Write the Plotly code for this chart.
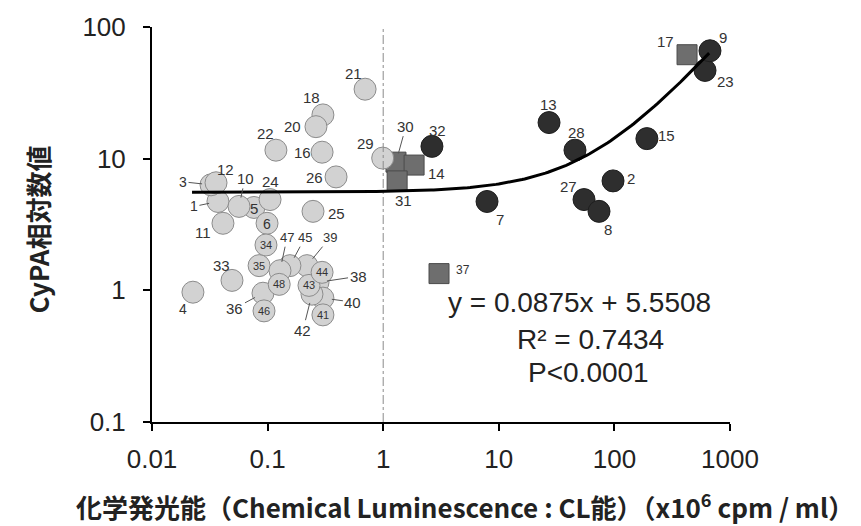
import numpy as np
import plotly.graph_objects as go

# ---------------- data ----------------
# light-gray circles
a_ids = [1, 3, 4, 5, 6, 10, 11, 12, 16, 18, 20, 21, 22, 24, 25, 26, 29, 33, 34, 35,
         36, 38, 39, 40, 41, 42, 43, 44, 45, 46, 47, 48]
a_x = [0.0372, 0.0324, 0.0226, 0.0762, 0.0989, 0.0566, 0.0411, 0.0358, 0.296, 0.301, 0.262,
       0.697, 0.118, 0.105, 0.247, 0.391, 0.99, 0.0492, 0.0968, 0.0844,
       0.0912, 0.273, 0.219, 0.301, 0.301, 0.242, 0.228, 0.296, 0.156, 0.0931, 0.128, 0.126]
a_y = [4.73, 6.33, 0.968, 4.26, 3.23, 4.34, 3.23, 6.56, 11.2, 21.5, 17.5,
       33.7, 11.6, 4.89, 3.98, 7.27, 10.1, 1.19, 2.21, 1.54,
       0.951, 1.15, 1.54, 0.873, 0.651, 0.935, 1.09, 1.37, 1.54, 0.698, 1.41, 1.11]

# dark-gray squares
b_ids = [30, 14, 31, 17, 37]
b_x = [1.29, 1.85, 1.32, 425, 3.04]
b_y = [9.41, 8.94, 6.78, 61.6, 1.34]

# dark circles
c_ids = [2, 7, 27, 8, 13, 15, 23, 9, 28, 32]
c_x = [97.3, 7.91, 54.6, 73.6, 27.2, 191, 608, 671, 45.6, 2.64]
c_y = [6.78, 4.73, 4.89, 3.98, 18.8, 14.2, 46.8, 66.0, 11.6, 12.4]

# regression shown on chart
fit_slope = 0.0875
fit_intercept = 5.5508
fit_range = [0.0222, 660]

x_ticks = [0.01, 0.1, 1, 10, 100, 1000]
x_tick_text = ["0.01", "0.1", "1", "10", "100", "1000"]
y_ticks = [0.1, 1, 10, 100]
y_tick_text = ["0.1", "1", "10", "100"]

# ---------------- label styling (pixel offsets) ----------------
# plain labels: (xshift, yshift, size)
plain = {
    2: (18, 2, 15), 4: (-10, -17, 14), 5: (0, -1, 15), 6: (0, -1, 14), 7: (13, -18, 15),
    8: (9, -18, 15), 9: (13, 13, 15), 11: (-20, -9, 15), 12: (9, 13, 15), 13: (-1, 18, 15),
    14: (22, -8, 15), 15: (20, 3, 15), 16: (-20, 0, 15), 17: (-22, 13, 15), 18: (-11, 17, 15),
    20: (-23, 0, 15), 21: (-12, 16, 15), 22: (-10, 17, 15), 23: (20, -11, 15), 24: (0, 18, 15),
    25: (23, -2, 15), 26: (-22, -1, 15), 27: (-16, 13, 15), 28: (2, 18, 15), 29: (-17, 15, 15),
    31: (6, -20, 15), 32: (6, 16, 15), 33: (-10, 15, 15), 37: (24, 4, 12),
    34: (0, 0, 11), 35: (0, 0, 11), 41: (0, 0, 11), 43: (0, 0, 11), 44: (0, 0, 11),
    46: (0, 0, 11), 48: (0, 0, 11),
}
# leader-line labels: (ax, ay, size)
leader = {
    1: (-24, 5, 14), 3: (-28, -3, 14), 10: (6, -28, 15), 30: (10, -36, 15),
    47: (7, -33, 13), 45: (15, -28, 13), 39: (23, -28, 13), 38: (40, -6, 15),
    40: (30, 4, 15), 42: (-9, 36, 15), 36: (-28, 15, 15),
}

NUMFONT = "Liberation Sans, Arial, sans-serif"
CJKFONT = "Noto Sans CJK JP, sans-serif"

fig = go.Figure()

fig.add_trace(go.Scatter(
    x=b_x, y=b_y, mode="markers",
    marker=dict(symbol="square", size=20, color="#6e6e6e",
                line=dict(color="#4a4a4a", width=1)),
    showlegend=False, hoverinfo="skip"))

fig.add_trace(go.Scatter(
    x=a_x, y=a_y, mode="markers",
    marker=dict(symbol="circle", size=22, color="#d2d2d2",
                line=dict(color="#8c8c8c", width=1)),
    showlegend=False, hoverinfo="skip"))

fig.add_trace(go.Scatter(
    x=c_x, y=c_y, mode="markers",
    marker=dict(symbol="circle", size=22, color="#2e2e2e",
                line=dict(color="#1e1e1e", width=1)),
    showlegend=False, hoverinfo="skip"))

# vertical dashed reference at x = 1
fig.add_trace(go.Scatter(
    x=[1, 1], y=[0.1, 100], mode="lines",
    line=dict(color="#8a8a8a", width=1, dash="dashdot"),
    showlegend=False, hoverinfo="skip"))

fx = np.logspace(np.log10(fit_range[0]), np.log10(fit_range[1]), 200)
fy = fit_slope * fx + fit_intercept
fig.add_trace(go.Scatter(
    x=fx, y=fy, mode="lines", line=dict(color="black", width=3),
    showlegend=False, hoverinfo="skip"))

all_pts = {}
for ids, xs, ys in ((a_ids, a_x, a_y), (b_ids, b_x, b_y), (c_ids, c_x, c_y)):
    for i, xv, yv in zip(ids, xs, ys):
        all_pts[i] = (xv, yv)

ann = []
for i, (xv, yv) in all_pts.items():
    if i in plain:
        xs_, ys_, sz = plain[i]
        ann.append(dict(x=np.log10(xv), y=np.log10(yv), text=str(i), showarrow=False,
                        xanchor="center", yanchor="middle",
                        xshift=xs_, yshift=ys_, font=dict(family=NUMFONT, size=sz, color="#333")))
    elif i in leader:
        ax, ay, sz = leader[i]
        ann.append(dict(x=np.log10(xv), y=np.log10(yv), text=str(i), showarrow=True,
                        arrowhead=0, arrowwidth=1, arrowcolor="#555", ax=ax, ay=ay,
                        standoff=9, font=dict(family=NUMFONT, size=sz, color="#333")))

EQFONT = dict(family=NUMFONT, size=28, color="#222")
ann += [
    dict(xref="paper", yref="paper", x=0.740, y=0.302, text="y = 0.0875x + 5.5508",
         xanchor="center", yanchor="middle", showarrow=False, font=EQFONT),
    dict(xref="paper", yref="paper", x=0.7595, y=0.2095, text="R² = 0.7434",
         xanchor="center", yanchor="middle", showarrow=False, font=EQFONT),
    dict(xref="paper", yref="paper", x=0.756, y=0.125, text="P<0.0001",
         xanchor="center", yanchor="middle", showarrow=False, font=EQFONT),
    dict(xref="paper", yref="paper", x=0, y=0.5, xshift=-115, yshift=-5,
         xanchor="center", yanchor="middle", text="<b>CyPA相対数値</b>",
         textangle=-90, showarrow=False,
         font=dict(family=CJKFONT, size=26, color="#222")),
    dict(xref="paper", yref="paper", x=0.5, y=0, xshift=24, yshift=-83,
         xanchor="center", yanchor="middle",
         text="<b>化学発光能（Chemical Luminescence : CL能）（x10<sup>6</sup> cpm / ml）</b>",
         showarrow=False,
         font=dict(family=CJKFONT, size=26, color="#222")),
]

axis_common = dict(type="log", showgrid=False, zeroline=False, showline=True,
                   linecolor="black", linewidth=2, ticks="outside", ticklen=7,
                   tickwidth=2, tickcolor="black",
                   tickfont=dict(family=NUMFONT, size=26, color="#222"))

fig.update_layout(
    width=861, height=526,
    margin=dict(l=152, r=131, t=21, b=104),
    paper_bgcolor="white", plot_bgcolor="white",
    xaxis=dict(range=[-2, 3], tickvals=x_ticks, ticktext=x_tick_text,
               ticklabelstandoff=6, **axis_common),
    yaxis=dict(range=[-1, 2], tickvals=y_ticks, ticktext=y_tick_text,
               ticklabelstandoff=12, **axis_common),
    annotations=ann,
)

fig.write_html("out.html", config={"displayModeBar": False},
               post_script="document.body.style.margin='0';")
